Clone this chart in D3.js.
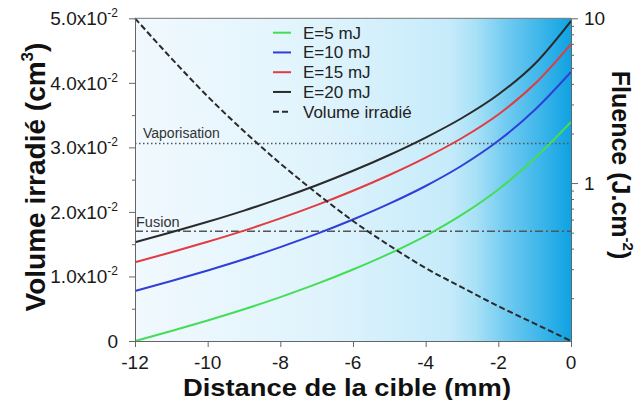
<!DOCTYPE html>
<html><head><meta charset="utf-8">
<script src="https://cdn.jsdelivr.net/npm/d3@7"></script>
<style>
html,body{margin:0;padding:0;background:#fff;}
svg{display:block;font-family:"Liberation Sans",Arial,sans-serif;}
</style></head>
<body><svg id="c" width="638" height="400"></svg>
<script>
// ---- data ----
const distance = [-12,-11,-10,-9,-8,-7,-6,-5,-4,-3,-2,-1,0];
const fluenceE5  = [0.11,0.1265,0.1465,0.1713,0.2032,0.2443,0.2987,0.3726,0.4785,0.6427,0.914,1.409,2.348];
const fluenceE10 = [0.2213,0.2544,0.2946,0.3445,0.4087,0.4913,0.6008,0.7497,0.9598,1.278,1.805,2.776,4.722];
const fluenceE15 = [0.3304,0.380,0.440,0.5146,0.610,0.734,0.8976,1.119,1.427,1.877,2.607,3.99,6.98];
const fluenceE20 = [0.437,0.5027,0.5818,0.6806,0.807,0.9705,1.187,1.48,1.888,2.482,3.447,5.28,9.63];
const volume = [0.0500,0.0438,0.0379,0.0325,0.0275,0.0229,0.0186,0.0148,0.0113,0.0083,0.0054,0.0027,0];
const seriesNames = ["E=5 mJ","E=10 mJ","E=15 mJ","E=20 mJ"];
const seriesColors = ["#44dd55","#2f3fd8","#e23b40","#2a2a2a"];
const volumeName = "Volume irradié";
const xTicks = [-12,-10,-8,-6,-4,-2,0];
const leftTicks = [0,0.01,0.02,0.03,0.04,0.05];
const leftTickMantissa = ["0","1.0","2.0","3.0","4.0","5.0"];
const leftMinor = [0.005,0.015,0.025,0.035,0.045];
const rightTicks = [1,10];
const rightMinor = [0.2,0.3,0.4,0.5,0.6,0.7,0.8,0.9,2,3,4,5,6,7,8,9];
const thresholdNames = ["Vaporisation","Fusion"];
const thresholdValues = [1.74,0.51];
const thresholdDash = ["1.5,2.5","8,3,2,3"];

// ---- scales ----
const svg = d3.select("#c");
const L = 135, R = 571, T = 18.3, B = 341;
const x = d3.scaleLinear().domain([-12,0]).range([L,R]);
const yL = d3.scaleLinear().domain([0,0.05]).range([B,T]);
const yR = d3.scaleLog().domain([0.11,10]).range([B,T]);

// background gradient
const defs = svg.append("defs");
const grad = defs.append("linearGradient").attr("id","bg")
  .attr("gradientUnits","userSpaceOnUse").attr("x1",L).attr("x2",R).attr("y1",0).attr("y2",0);
[[0,"#f1f9fe"],[0.45,"#def3fc"],[0.72,"#c6ebfa"],[0.78,"#a9e1f7"],[0.85,"#72cbf1"],[0.93,"#3db6ea"],[1,"#0fa2e2"]]
  .forEach(s=>grad.append("stop").attr("offset",s[0]).attr("stop-color",s[1]));
svg.append("rect").attr("x",L).attr("y",T).attr("width",R-L).attr("height",B-T).attr("fill","url(#bg)");

// threshold lines
thresholdValues.forEach((v,i)=>{
  svg.append("line").attr("x1",L).attr("x2",R).attr("y1",yR(v)).attr("y2",yR(v))
    .attr("stroke","#555").attr("stroke-width",1.5).attr("stroke-dasharray",thresholdDash[i]);
});
svg.append("text").attr("x",143).attr("y",yR(thresholdValues[0])-5).attr("font-size",14).attr("fill","#333").text(thresholdNames[0]);
svg.append("text").attr("x",136).attr("y",yR(thresholdValues[1])-4).attr("font-size",14.5).attr("fill","#333").text(thresholdNames[1]);

// series lines
const lineR = d3.line().x((d,i)=>x(distance[i])).y(d=>yR(d)).curve(d3.curveMonotoneX);
[fluenceE5,fluenceE10,fluenceE15,fluenceE20].forEach((s,i)=>{
  svg.append("path").attr("d",lineR(s)).attr("fill","none").attr("stroke",seriesColors[i]).attr("stroke-width",2);
});
const lineL = d3.line().x((d,i)=>x(distance[i])).y(d=>yL(d)).curve(d3.curveMonotoneX);
svg.append("path").attr("d",lineL(volume)).attr("fill","none").attr("stroke","#2a2a2a")
  .attr("stroke-width",2).attr("stroke-dasharray","6,3");

// frame top
svg.append("line").attr("x1",L).attr("x2",R).attr("y1",T).attr("y2",T).attr("stroke","#777").attr("stroke-width",1);

// axes
function styleAxis(g){ g.select(".domain").attr("stroke","#666"); g.selectAll(".tick line").attr("stroke","#666"); g.selectAll(".tick text").remove(); }
svg.append("g").attr("transform",`translate(0,${B})`).call(d3.axisBottom(x).tickValues(xTicks).tickSize(6).tickSizeOuter(0)).call(styleAxis);
svg.append("g").attr("transform",`translate(${L},0)`).call(d3.axisLeft(yL).tickValues(leftTicks).tickSize(6).tickSizeOuter(0)).call(styleAxis);
svg.append("g").attr("transform",`translate(${L},0)`).call(d3.axisLeft(yL).tickValues(leftMinor).tickSize(3).tickSizeOuter(0)).call(styleAxis);
svg.append("g").attr("transform",`translate(${R},0)`).call(d3.axisRight(yR).tickValues(rightTicks).tickSize(7).tickSizeOuter(0)).call(styleAxis);
svg.append("g").attr("transform",`translate(${R},0)`).call(d3.axisRight(yR).tickValues(rightMinor).tickSize(3).tickSizeOuter(0)).call(styleAxis);

// tick labels
xTicks.forEach(t=>{
  svg.append("text").attr("x",x(t)).attr("y",369).attr("text-anchor","middle").attr("font-size",19).attr("fill","#1a1a1a").text(String(t));
});
leftTicks.forEach((t,i)=>{
  const tx = svg.append("text").attr("x",118).attr("y",yL(t)+7).attr("text-anchor","end").attr("font-size",19).attr("fill","#1a1a1a");
  if(t===0){ tx.text(leftTickMantissa[i]); }
  else {
    tx.append("tspan").text(leftTickMantissa[i]+"x10");
    tx.append("tspan").attr("font-size",12).attr("dy",-8).text("-2");
  }
});
rightTicks.forEach(t=>{
  svg.append("text").attr("x",584).attr("y",yR(t)+7).attr("font-size",19).attr("fill","#1a1a1a").text(String(t));
});

// axis titles
svg.append("text").attr("x",347).attr("y",396).attr("text-anchor","middle").attr("font-size",24).attr("font-weight","bold").attr("fill","#111")
  .attr("textLength",328).attr("lengthAdjust","spacingAndGlyphs")
  .text("Distance de la cible (mm)");
const lt = svg.append("text").attr("transform","translate(45,177) rotate(-90)").attr("text-anchor","middle")
  .attr("font-size",28).attr("font-weight","bold").attr("fill","#111");
lt.append("tspan").text("Volume irradié (cm");
lt.append("tspan").attr("font-size",17).attr("dy",-12).text("3");
lt.append("tspan").attr("dy",12).text(")");
const rt = svg.append("text").attr("transform","translate(612,165) rotate(90)").attr("text-anchor","middle")
  .attr("font-size",25).attr("font-weight","bold").attr("fill","#111");
rt.append("tspan").text("Fluence (J.cm");
rt.append("tspan").attr("font-size",15).attr("dy",-11).text("-2");
rt.append("tspan").attr("dy",11).text(")");

// legend
const legNames = seriesNames.concat([volumeName]);
legNames.forEach((n,i)=>{
  const cy = 32.7 + i*19.75;
  const ln = svg.append("line").attr("x1",273).attr("x2",291).attr("y1",cy).attr("y2",cy).attr("stroke-width",2);
  if(i<4) ln.attr("stroke",seriesColors[i]);
  else ln.attr("stroke","#2a2a2a").attr("stroke-dasharray","6,3");
  svg.append("text").attr("x",303).attr("y",cy+6).attr("font-size",17).attr("fill","#222").text(n);
});
</script></body></html>
